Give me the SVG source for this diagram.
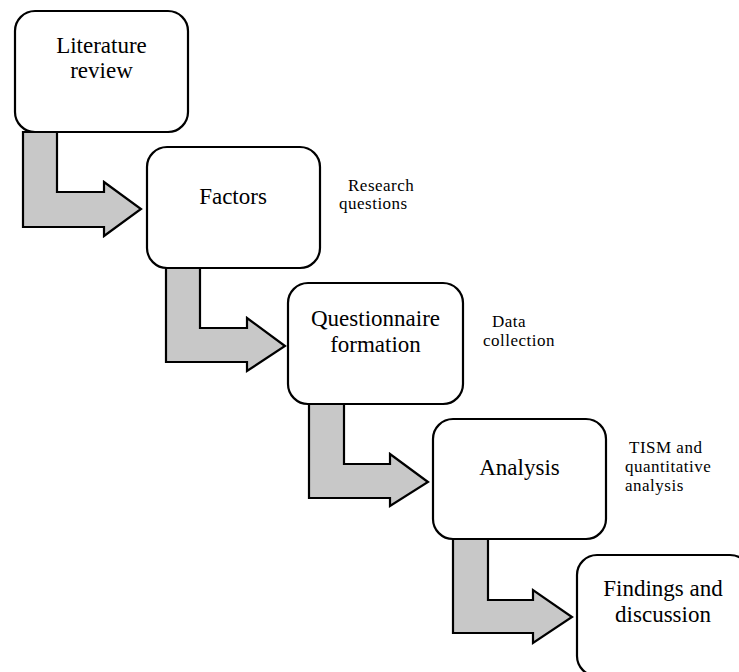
<svg xmlns="http://www.w3.org/2000/svg" width="739" height="672" viewBox="0 0 739 672">
  <style>
    .box { fill: #ffffff; stroke: #000000; stroke-width: 2.2; }
    .arrow { fill: #c8c8c8; stroke: #000000; stroke-width: 2.2; stroke-linejoin: miter; }
    .main { font-family: "Liberation Serif", "Times New Roman", serif; font-size: 23px; fill: #000000; text-anchor: middle; }
    .note { font-family: "Liberation Serif", "Times New Roman", serif; font-size: 17px; letter-spacing: 0.5px; fill: #000000; }
  </style>
  <rect width="739" height="672" fill="#ffffff"/>

  <!-- bent block arrows between steps -->
  <g id="connectors">
    <polygon class="arrow" points="23,132 57,132 57,192 104,192 104,182 141,209 104,236 104,227 23,227"/>
    <polygon class="arrow" points="166,268 200,268 200,328 247,328 247,318 285,346 247,371 247,362 166,362"/>
    <polygon class="arrow" points="309,404 344,404 344,464 390,464 390,454 428,482 390,506 390,498 309,498"/>
    <polygon class="arrow" points="453,539 488,539 488,600 533,600 533,590 572,617 533,643 533,633 453,633"/>
  </g>

  <g id="literature-review">
    <rect class="box" x="15" y="11" width="173" height="121" rx="20" ry="20"/>
    <text class="main" x="101.5" y="53">Literature</text>
    <text class="main" x="101.5" y="78">review</text>
  </g>

  <g id="factors">
    <rect class="box" x="147" y="147" width="173" height="121" rx="20" ry="20"/>
    <text class="main" x="233" y="204">Factors</text>
  </g>

  <g id="questionnaire-formation">
    <rect class="box" x="288" y="283" width="175" height="121" rx="20" ry="20"/>
    <text class="main" x="375.5" y="326">Questionnaire</text>
    <text class="main" x="375.5" y="352">formation</text>
  </g>

  <g id="analysis">
    <rect class="box" x="433" y="419" width="173" height="120" rx="20" ry="20"/>
    <text class="main" x="519.5" y="475">Analysis</text>
  </g>

  <g id="findings-and-discussion">
    <rect class="box" x="577" y="555" width="173" height="121" rx="20" ry="20"/>
    <text class="main" x="663" y="596">Findings and</text>
    <text class="main" x="663" y="622">discussion</text>
  </g>

  <!-- side notes -->
  <g id="note-research-questions">
    <text class="note" x="348" y="191">Research</text>
    <text class="note" x="339" y="209">questions</text>
  </g>
  <g id="note-data-collection">
    <text class="note" x="492" y="327">Data</text>
    <text class="note" x="483" y="346">collection</text>
  </g>
  <g id="note-tism">
    <text class="note" x="629" y="453">TISM and</text>
    <text class="note" x="625" y="472">quantitative</text>
    <text class="note" x="625" y="491">analysis</text>
  </g>
</svg>
